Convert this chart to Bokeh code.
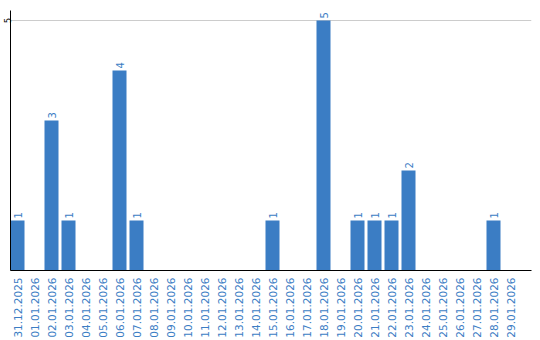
import math
from bokeh.plotting import figure
from bokeh.models import ColumnDataSource, Range1d, FixedTicker
from bokeh.core.properties import value
from bokeh.embed import file_html
from bokeh.resources import INLINE

dates = ["31.12.2025"] + ["%02d.01.2026" % d for d in range(1, 30)]
counts = [1, 0, 3, 1, 0, 0, 4, 1, 0, 0,
          0, 0, 0, 0, 0, 1, 0, 0, 5, 0,
          1, 1, 1, 2, 0, 0, 0, 0, 1, 0]
y_ticks = [5]

BLUE = "#3b7dc4"
xs = list(range(len(dates)))
src = ColumnDataSource(dict(x=xs, y=counts))
lab = ColumnDataSource(dict(x=[x for x, c in zip(xs, counts) if c],
                            y=[c for c in counts if c],
                            t=[str(c) for c in counts if c]))

p = figure(width=540, height=340, output_backend="svg", toolbar_location=None,
           x_range=Range1d(-7 / 17, 514 / 17), y_range=Range1d(0, 5.2),
           min_border_left=10, min_border_right=9, min_border_top=10,
           min_border_bottom=70)
p.outline_line_color = None
p.background_fill_color = "white"

p.vbar(x="x", top="y", width=14 / 17, bottom=0, source=src,
       fill_color=BLUE, line_color=None)
p.text(x="x", y="y", text="t", source=lab, angle=math.pi / 2,
       text_align="left", text_baseline="middle", y_offset=-2, x_offset=0,
       text_color=BLUE, text_font_size="10px", text_font=value("DejaVu Sans"))

for ax in (p.xaxis[0], p.yaxis[0]):
    ax.major_tick_line_color = None
    ax.minor_tick_line_color = None
    ax.major_tick_out = 0
    ax.major_tick_in = 0
    ax.minor_tick_out = 0
    ax.minor_tick_in = 0
    ax.axis_line_color = "black"
    ax.axis_line_width = 1
    ax.major_label_text_font = "DejaVu Sans"

p.xaxis.ticker = FixedTicker(ticks=xs)
p.xaxis.major_label_overrides = {i: d for i, d in enumerate(dates)}
p.xaxis.major_label_orientation = math.pi / 2
p.xaxis.major_label_text_color = BLUE
p.xaxis.major_label_text_font_size = "10.5px"
p.xaxis.major_label_standoff = 7

p.yaxis.ticker = FixedTicker(ticks=y_ticks)
p.yaxis.major_label_orientation = "vertical"
p.yaxis.major_label_text_color = "black"
p.yaxis.major_label_text_font_size = "8px"
p.yaxis.major_label_standoff = 0

p.xgrid.grid_line_color = None
p.ygrid.ticker = FixedTicker(ticks=y_ticks)
p.ygrid.grid_line_color = "#cccccc"
p.ygrid.grid_line_width = 1

open("out.html", "w").write(file_html(p, INLINE))
